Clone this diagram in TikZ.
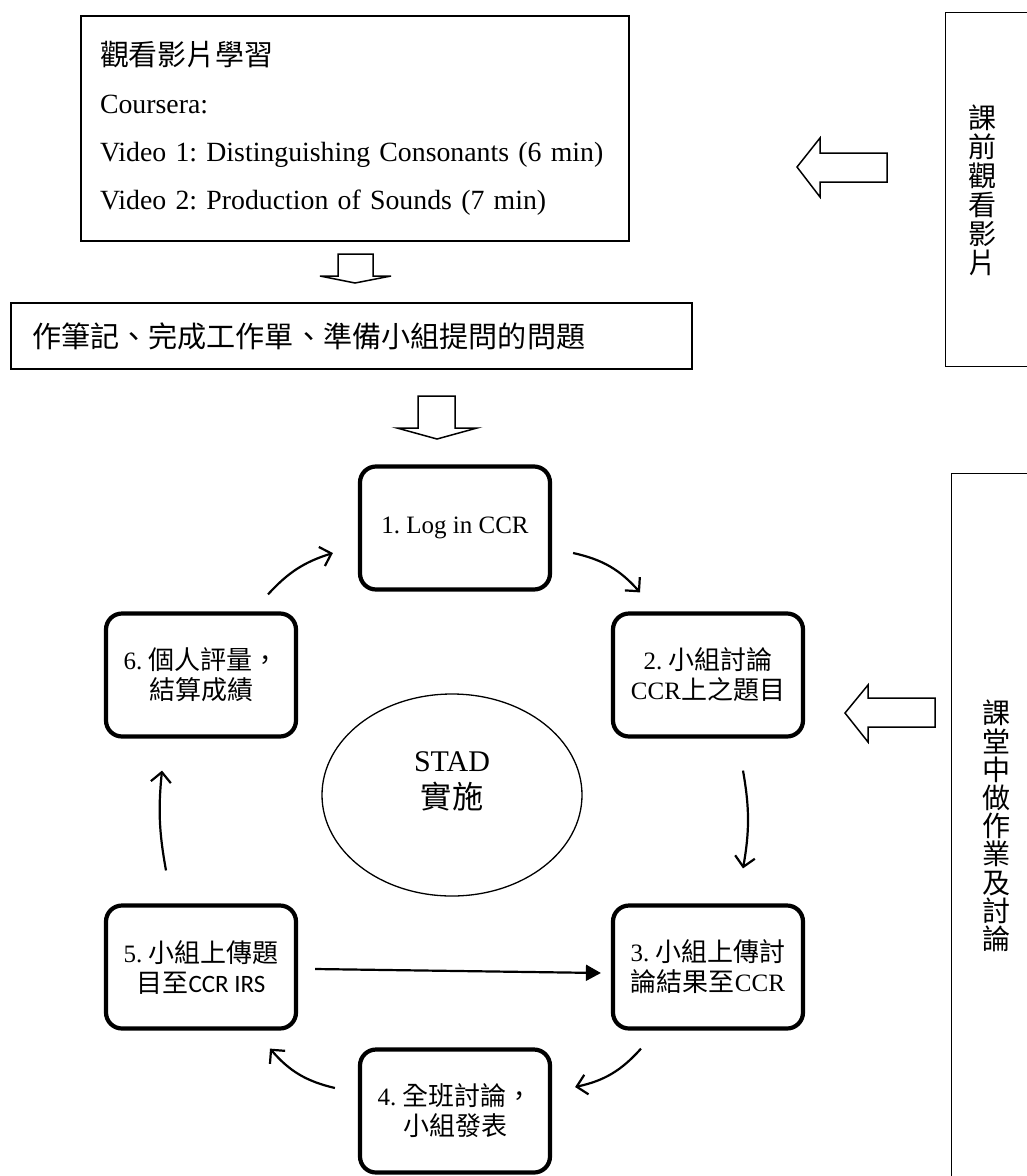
\documentclass[tikz,border=0pt]{standalone}
\usepackage{fontspec}
\setmainfont{Liberation Serif}
\newfontfamily\cjk[Scale=1.04]{Noto Sans CJK TC}
\newfontfamily\calibri{Carlito}
\newcommand{\zh}[1]{{\cjk #1}}
\usetikzlibrary{shapes, arrows.meta, positioning, calc}
\frenchspacing

\begin{document}
\begin{tikzpicture}[x=1pt, y=1pt,
  pbox/.style={draw, line width=1.6pt, align=left},
  rbox/.style={draw, line width=4.2pt, rounded corners=16pt, minimum width=190pt, minimum height=123pt, align=center, font=\fontsize{25}{30}\selectfont, inner sep=2pt},
  sbox/.style={draw, line width=1.6pt, anchor=north west, minimum width=150pt},
  vtext/.style={align=center, font=\cjk\fontsize{27}{29}\selectfont, inner sep=0pt},
  flow/.style={line width=2.2pt, -{Straight Barb[length=10pt, width=20pt]}},
  hollow/.style={draw, line width=1.5pt, fill=white, line join=miter}
]
  \useasboundingbox (0,0) rectangle (1027,-1176);
  \clip (0,0) rectangle (1027,-1176);

  % before class
  \node[pbox, minimum width=548pt, minimum height=225pt, inner xsep=19pt, text width=510pt, font=\fontsize{27.8}{48}\selectfont] (video) at (355,-128.5)
    {\zh{觀看影片學習}\\Coursera:\\Video 1: Distinguishing Consonants (6 min)\\Video 2: Production of Sounds (7 min)};
  \node[pbox, minimum width=681pt, minimum height=66pt, inner xsep=21pt, text width=639pt, font=\cjk\fontsize{28}{30}\selectfont] (notes) at (351.5,-336)
    {作筆記、完成工作單、準備小組提問的問題};

  \draw[hollow] (338,-254) -- (373,-254) -- (373,-276) -- (391,-276) -- (355,-283) -- (320,-276) -- (338,-276) -- cycle;
  \draw[hollow] (418,-396) -- (455,-396) -- (455,-428) -- (477,-428) -- (437,-439) -- (397,-428) -- (418,-428) -- cycle;

  % side labels
  \node[sbox, minimum height=354pt] (pre) at (944.8,-11.8) {};
  \node[vtext] (pretxt) at (983,-190) {課\\前\\觀\\看\\影\\片};
  \draw[hollow] (887,-153) -- (820,-153) -- (820,-138) -- (797,-167) -- (820,-197) -- (820,-182) -- (887,-182) -- cycle;

  \node[sbox, minimum height=760pt] (inclass) at (950.8,-472.8) {};
  \node[vtext, font=\cjk\fontsize{27}{28.2}\selectfont] (intxt) at (997,-826) {課\\堂\\中\\做\\作\\業\\及\\討\\論};
  \draw[hollow] (935,-698) -- (868,-698) -- (868,-685) -- (845,-713) -- (868,-742) -- (868,-727) -- (935,-727) -- cycle;

  % STAD cycle
  \node[draw, ellipse, line width=1.3pt, minimum width=260pt, minimum height=202pt, inner sep=0pt] (stad) at (452,-795) {};
  \node[align=center, font=\fontsize{30}{37}\selectfont] (stadtxt) at (452,-781) {STAD\\\zh{實施}};

  \node[rbox] (login) at (455,-528) {1. Log in CCR};
  \node[rbox] (discuss) at (708,-675) {2. \zh{小組討論}\\CCR\zh{上之題目}};
  \node[rbox] (result) at (708,-967) {3. \zh{小組上傳討}\\\zh{論結果至}CCR};
  \node[rbox] (present) at (455,-1111) {4. \zh{全班討論，}\\\zh{小組發表}};
  \node[rbox] (irs) at (201,-967) {5. \zh{小組上傳題}\\\zh{目至}{\calibri CCR IRS}};
  \node[rbox] (assess) at (201,-675) {6. \zh{個人評量，}\\\zh{結算成績}};

  \draw[flow] ($(login.east)+(21,-25)$) to[bend left=18] ($(discuss.north)+(-68,19)$);
  \draw[flow] ($(discuss.south)+(35,-32)$) to[bend left=10] ($(result.north)+(35,35)$);
  \draw[flow] ($(result.south)+(-67,-18)$) to[bend left=18] ($(present.east)+(23,24)$);
  \draw[flow] ($(present.west)+(-23,23)$) to[bend left=18] ($(irs.south)+(69,-18)$);
  \draw[flow] ($(irs.north)+(-35,33)$) to[bend left=8] ($(assess.south)+(-39,-32)$);
  \draw[flow] ($(assess.north)+(67,17)$) to[bend left=15] ($(login.west)+(-25,-25)$);
  \draw[line width=2.2pt, -{Triangle[length=15pt, width=16pt]}] ($(irs.east)+(17,-2)$) -- ($(result.west)+(-10,-6)$);
\end{tikzpicture}
\end{document}
